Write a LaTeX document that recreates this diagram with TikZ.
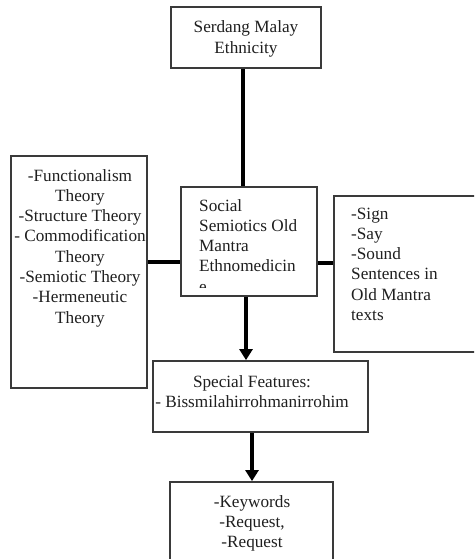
\documentclass[tikz,border=0pt]{standalone}
\usepackage{fontspec}
\setmainfont{Liberation Serif}
\usetikzlibrary{arrows.meta}
\tikzset{
  box/.style={draw=boxgray, line width=1.8pt, fill=white, inner sep=0pt},
  conn/.style={draw=black, line width=4.5pt},
  arr/.style={conn, -{Triangle[length=11pt,width=13pt]}},
  txt/.style={inner sep=0pt, text=black!88, font=\fontsize{17.2pt}{20.3pt}\selectfont, anchor=base}
}
\definecolor{boxgray}{HTML}{3A3A3A}
\begin{document}
\begin{tikzpicture}[x=1pt,y=-1pt]
\useasboundingbox (0,0) rectangle (474,559);
\clip (0,0) rectangle (474,559);
% boxes
\node[box, minimum width=150pt, minimum height=61pt] (top) at (246,37.5) {};
\node[box, minimum width=136pt, minimum height=109pt] (center) at (249,241.5) {};
\node[box, minimum width=136pt, minimum height=232pt] (left) at (79,272) {};
\node[box, minimum width=156pt, minimum height=156pt] (right) at (412,274) {};
\node[box, minimum width=215pt, minimum height=71pt] (special) at (260.5,396.5) {};
\node[box, minimum width=163pt, minimum height=98pt] (keys) at (251.5,531) {};
% connectors
\draw[conn] ([xshift=-3pt]top.south) -- ([xshift=-6pt]center.north);
\draw[conn] ([yshift=10pt]left.east) -- ([yshift=-20.5pt]center.west);
\draw[conn] ([yshift=-21.5pt]center.east) -- ([yshift=11pt]right.west);
\draw[arr] ([xshift=-3pt]center.south) -- ([xshift=-14.5pt]special.north);
\draw[arr] ([xshift=-8.5pt]special.south) -- ([xshift=0.5pt]keys.north);
% texts (anchor base = baseline of the last line)
\node[txt, align=center] (ttop) at (246,53.3) {Serdang Malay\\Ethnicity};
\node[txt, align=center] (tleft) at (80,323.1) {-Functionalism\\Theory\\-Structure Theory\\- Commodification\\Theory\\-Semiotic Theory\\-Hermeneutic\\Theory};
\node[txt, align=left, anchor=base west] (tright) at (351,320.5) {-Sign\\-Say\\-Sound\\Sentences in\\Old Mantra\\texts};
\begin{scope}
\clip (182,188) rectangle (316,287);
\node[txt, align=left, anchor=base west] (tcenter) at (199,292.2) {Social\\Semiotics Old\\Mantra\\Ethnomedicin\\e};
\end{scope}
\node[txt, align=center] (tspecial) at (252,407.3) {Special Features:\\- Bissmilahirrohmanirrohim};
\node[txt, align=center] (tkeys) at (252,547.6) {-Keywords\\-Request,\\-Request};
\end{tikzpicture}
\end{document}
